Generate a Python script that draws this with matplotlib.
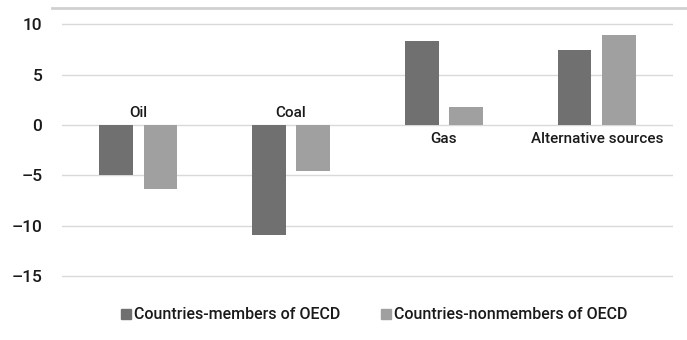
import matplotlib.pyplot as plt
import numpy as np
from matplotlib.lines import Line2D

categories = ["Oil", "Coal", "Gas", "Alternative sources"]
series_names = ["Countries-members of OECD", "Countries-nonmembers of OECD"]
members = [-5.0, -10.9, 8.3, 7.4]
nonmembers = [-6.3, -4.6, 1.8, 8.9]
y_ticks = [-15, -10, -5, 0, 5, 10]

plt.rcParams["font.family"] = ["Roboto", "DejaVu Sans"]
plt.rcParams["font.weight"] = "medium"
plt.rcParams["axes.unicode_minus"] = False

fig = plt.figure(figsize=(6.87, 3.40), dpi=100)
ax = fig.add_axes([0.090, 0.183, 0.890, 0.750])

x = np.arange(len(categories))
bar_width = 0.22
offset = 0.145
colors = ["#707070", "#a0a0a0"]

ax.bar(x - offset, members, width=bar_width, color=colors[0], zorder=3)
ax.bar(x + offset, nonmembers, width=bar_width, color=colors[1], zorder=3)

# category labels sit on the zero line, opposite the bars
for i, cat in enumerate(categories):
    if members[i] < 0:
        ax.annotate(cat, xy=(x[i], 0), xytext=(0, 4), textcoords="offset points",
                    ha="center", va="bottom", fontsize=11, color="#1a1a1a")
    else:
        ax.annotate(cat, xy=(x[i], 0), xytext=(0, -5), textcoords="offset points",
                    ha="center", va="top", fontsize=11, color="#1a1a1a")

ax.set_xlim(-0.5, len(categories) - 0.5)
ax.set_ylim(-15.15, 10.15)
ax.set_yticks(y_ticks)
ax.set_yticklabels(["\u2013" + str(abs(v)) if v < 0 else str(v) for v in y_ticks])
ax.tick_params(axis="y", length=0, pad=14, labelsize=12.5, labelcolor="#1a1a1a")
ax.set_xticks([])
ax.grid(axis="y", color="#d9d9d9", linewidth=1.0, zorder=0)
for s in ax.spines.values():
    s.set_visible(False)

# square legend markers like the original
handles = [Line2D([], [], linestyle="none", marker="s", markersize=6.5,
                  markerfacecolor=c, markeredgecolor=c) for c in colors]
fig.legend(handles, series_names, loc="lower center", bbox_to_anchor=(0.545, 0.01),
           ncol=2, frameon=False, fontsize=11.5, handlelength=0.6, handletextpad=0.2,
           columnspacing=2.6, labelcolor="#1a1a1a")

# thin border line at the top of the image
fig.add_artist(Line2D([0.075, 1.0], [0.976, 0.976], color="#d0d0d0", linewidth=2.0))

fig.savefig("out.png", dpi=100)
